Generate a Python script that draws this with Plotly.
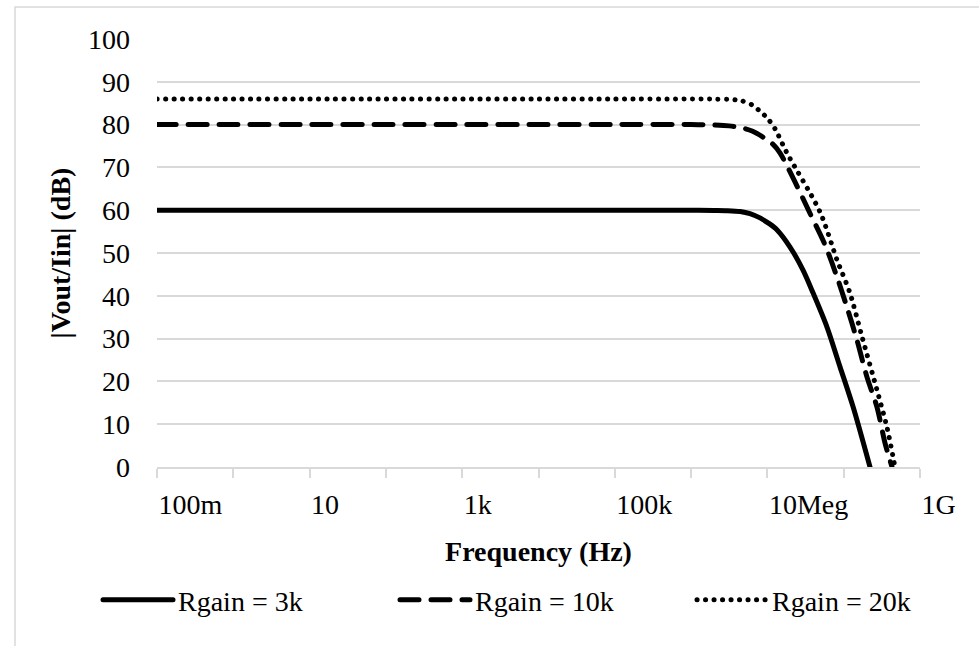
import plotly.graph_objects as go

# Frequency response |Vout/Iin| for three gain resistors
freq_3k = [1e-1, 1e0, 1e1, 1e2, 1e3, 1e4, 1e5, 1e6, 2e6, 3e6, 4.4e6, 5.9e6, 8e6,
           1.07e7, 1.34e7, 1.98e7, 2.93e7, 3.96e7, 6.04e7, 8.95e7, 1.33e8, 2.21e8]
db_3k = [60, 60, 60, 60, 60, 60, 60, 60, 59.95, 59.9, 59.7, 59.2, 58.2,
         56.8, 55.4, 51.4, 46, 40.7, 32.7, 23.4, 14, 0]

freq_10k = [1e-1, 1e0, 1e1, 1e2, 1e3, 1e4, 1e5, 1e6, 2e6, 3.16e6, 4.5e6, 6.3e6,
            8.9e6, 1.17e7, 1.46e7, 2.3e7, 3.61e7, 5.69e7, 8.17e7, 1.1e8,
            1.49e8, 2.02e8, 2.73e8, 3.48e8, 4.3e8]
db_10k = [80, 80, 80, 80, 80, 80, 80, 80, 79.9, 79.7, 79.3, 78.5,
          77, 75.5, 73.4, 66.6, 59.3, 51.9, 44.4, 37.4,
          29.7, 21, 14, 5.6, 0]

freq_20k = [1e-1, 1e0, 1e1, 1e2, 1e3, 1e4, 1e5, 1e6, 2e6, 3.16e6, 4.5e6, 6.3e6,
            7.9e6, 1e7, 1.26e7, 1.8e7, 4.89e7, 8.17e7, 1.21e8, 1.74e8,
            2.73e8, 3.69e8, 4.7e8]
db_20k = [86, 86, 86, 86, 86, 86, 86, 86, 85.95, 85.9, 85.6, 84.6,
          83.2, 81.5, 79, 73.4, 59.6, 48.4, 40.6, 30.4,
          18, 9.3, 0]

series = [
    ("Rgain = 3k", freq_3k, db_3k, "solid"),
    ("Rgain = 10k", freq_10k, db_10k, "19px,12px"),
    ("Rgain = 20k", freq_20k, db_20k, "0.1px,8.4px"),
]

tick_vals = [1e-1, 1e0, 1e1, 1e2, 1e3, 1e4, 1e5, 1e6, 1e7, 1e8, 1e9]
tick_text = ["100m", "", "10", "", "1k", "", "100k", "", "10Meg", "", "1G"]

FONT = "Liberation Serif"
GRID = "#d9d9d9"

fig = go.Figure()
for name, fx, fy, dash in series:
    fig.add_trace(go.Scatter(
        x=fx, y=fy, name=name, mode="lines",
        line=dict(color="black", width=5, dash=dash, shape="spline", smoothing=0.8),
    ))

W, H = 979, 646
L, R, T, B = 157, 59, 39, 179
pw, ph = W - L - R, H - T - B

# light frame around the whole chart area
fig.add_shape(type="rect", xref="paper", yref="paper",
              x0=(15 - L) / pw, x1=(W + 10 - L) / pw,
              y0=(H - B - (H + 10)) / ph, y1=(H - B - 7) / ph,
              line=dict(color=GRID, width=1.5), fillcolor="rgba(0,0,0,0)", layer="below")

fig.update_layout(
    width=W, height=H,
    margin=dict(l=L, r=R, t=T, b=B, autoexpand=False),
    paper_bgcolor="white", plot_bgcolor="white",
    font=dict(family=FONT, size=28, color="black"),
    showlegend=True,
    legend=dict(orientation="h", x=(98 - L) / pw, xanchor="left",
                y=(H - B - 600) / ph, yanchor="middle",
                itemwidth=70, entrywidth=212, entrywidthmode="pixels",
                font=dict(family=FONT, size=28), bgcolor="rgba(0,0,0,0)",
                tracegroupgap=0),
    xaxis=dict(type="log", range=[-1, 9], tickvals=tick_vals, ticktext=tick_text,
               ticklabelposition="outside right",
               showgrid=False, showline=True, linecolor=GRID, linewidth=1.5,
               ticks="outside", ticklen=9, tickcolor=GRID, tickwidth=1.5,
               ticklabelstandoff=12, zeroline=False,
               title=dict(text="<b>Frequency (Hz)</b>", standoff=22,
                          font=dict(family=FONT, size=28))),
    yaxis=dict(range=[0, 100], dtick=10, showgrid=True, gridcolor=GRID, gridwidth=1.5,
               showline=False, ticks="", zeroline=False, ticklabelstandoff=26,
               title=dict(text="<b>|Vout/Iin| (dB)</b>", standoff=9,
                          font=dict(family=FONT, size=28))),
)

fig.write_html(
    "out.html",
    post_script="var s=document.createElement('style');"
                "s.textContent='.js-line{stroke-linecap:round;}';"
                "document.head.appendChild(s);",
)
